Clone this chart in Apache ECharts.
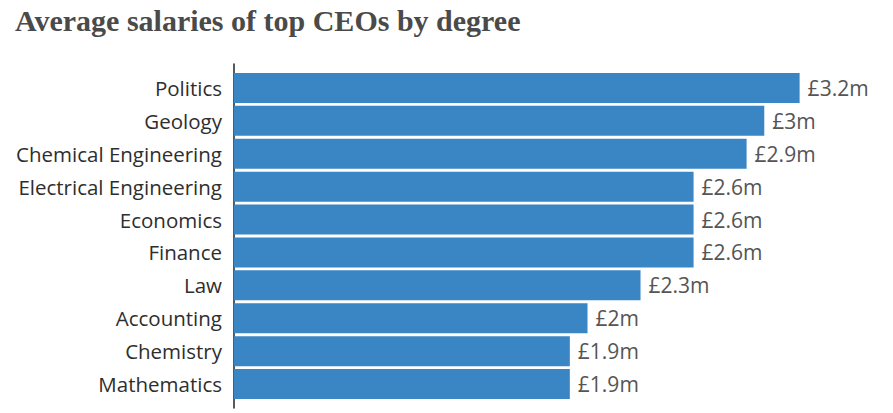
<!DOCTYPE html>
<html>
<head>
<meta charset="utf-8">
<script src="https://cdn.jsdelivr.net/npm/echarts@6/dist/echarts.min.js"></script>
<style>
  html, body { margin: 0; padding: 0; background: #fff; }
  #chart { width: 893px; height: 413px; }
</style>
</head>
<body>
<div id="chart"></div>
<script>
(function() {
  var degrees = ['Politics', 'Geology', 'Chemical Engineering', 'Electrical Engineering', 'Economics',
    'Finance', 'Law', 'Accounting', 'Chemistry', 'Mathematics'];
  var salaries = [3.2, 3.0, 2.9, 2.6, 2.6, 2.6, 2.3, 2.0, 1.9, 1.9];

  var barColor = '#3a86c4';
  var labelFont = '"Open Sans", "Noto Sans", sans-serif';

  var chart = echarts.init(document.getElementById('chart'), null, { renderer: 'svg' });

  chart.setOption({
    animation: false,
    title: {
      text: 'Average salaries of top CEOs by degree',
      left: 10,
      top: 0,
      textStyle: {
        fontFamily: '"Liberation Serif", serif',
        fontWeight: 'bold',
        fontSize: 30,
        color: '#4a4a4a'
      }
    },
    grid: [
      // bars
      { left: 234, right: 5, top: 71.5, height: 329 },
      // only carries the taller axis line
      { left: 234, width: 10, top: 64, height: 344 }
    ],
    xAxis: [
      { type: 'value', gridIndex: 0, min: 0, max: 3.7, show: false },
      { type: 'value', gridIndex: 1, show: false }
    ],
    yAxis: [
      {
        type: 'category',
        gridIndex: 0,
        inverse: true,
        data: degrees,
        axisLine: { show: false },
        axisTick: { show: false },
        axisLabel: {
          color: '#2e2e2e',
          fontSize: 20.5,
          fontFamily: labelFont,
          margin: 12
        }
      },
      {
        type: 'value',
        gridIndex: 1,
        min: 0,
        max: 1,
        axisLine: { show: true, lineStyle: { color: '#222', width: 1.5 } },
        axisTick: { show: false },
        axisLabel: { show: false },
        splitLine: { show: false }
      }
    ],
    series: [{
      type: 'bar',
      data: salaries,
      barWidth: 30,
      itemStyle: { color: barColor },
      label: {
        show: true,
        position: 'right',
        distance: 8,
        color: '#555',
        fontSize: 21,
        fontFamily: labelFont,
        formatter: function(p) { return '£' + p.value + 'm'; }
      }
    }]
  });

  window.addEventListener('resize', function() { chart.resize(); });
})();
</script>
</body>
</html>
